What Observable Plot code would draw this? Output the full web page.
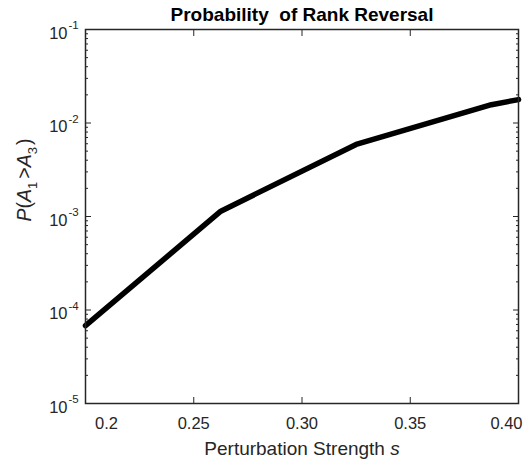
<!DOCTYPE html>
<html>
<head>
<meta charset="utf-8">
<script src="https://cdn.jsdelivr.net/npm/d3@7"></script>
<script src="https://cdn.jsdelivr.net/npm/@observablehq/plot@0.6"></script>
<style>
  html, body { margin: 0; padding: 0; background: #fff; }
</style>
</head>
<body>
<div id="chart"></div>
<script>
// ---- data ----
const sValues = [0.2, 0.2625, 0.325, 0.3875, 0.4];
const pValues = [6.8e-5, 1.14e-3, 5.9e-3, 1.57e-2, 1.78e-2];

const xTickValues = [0.2, 0.25, 0.30, 0.35, 0.40];
const xTickLabels = ["0.2", "0.25", "0.30", "0.35", "0.40"];
const yTickValues = [1e-5, 1e-4, 1e-3, 1e-2, 1e-1];
const yTickExponents = ["-5", "-4", "-3", "-2", "-1"];

const titleText = "Probability\u00a0 of Rank Reversal";
const xLabelText = "Perturbation Strength s";
const yLabelText = "P(A1 >A3)";

// ---- derived tables ----
const series = sValues.map((s, i) => ({s, p: pValues[i]}));
const xTicks = xTickValues.map((v, i) => ({v, label: xTickLabels[i]}));
const yTicks = yTickValues.map((v, i) => ({v, exp: yTickExponents[i]}));
const yMinor = [];
for (let k = 0; k < yTickValues.length - 1; k++)
  for (let m = 2; m <= 9; m++) yMinor.push(yTickValues[k] * m);

const ink = "#262626";

const chart = Plot.plot({
  width: 526,
  height: 461,
  marginLeft: 85,
  marginRight: 8,
  marginTop: 29,
  marginBottom: 58,
  style: {fontFamily: "'Liberation Sans', Arial, sans-serif", color: ink, background: "#fff", overflow: "visible"},
  x: {domain: [0.2, 0.4]},
  y: {type: "log", domain: [1e-5, 1e-1]},
  marks: [
    // axes ticks (inward, boxed)
    Plot.axisX({anchor: "bottom", ticks: xTickValues, tickSize: -6, tickFormat: () => "", label: null, stroke: ink}),
    Plot.axisX({anchor: "top", ticks: xTickValues, tickSize: -6, tickFormat: () => "", label: null, stroke: ink}),
    Plot.axisY({anchor: "left", ticks: yTickValues, tickSize: -6, tickFormat: () => "", label: null, stroke: ink}),
    Plot.axisY({anchor: "right", ticks: yTickValues, tickSize: -6, tickFormat: () => "", label: null, stroke: ink}),
    Plot.axisY({anchor: "left", ticks: yMinor, tickSize: -3, tickFormat: () => "", label: null, stroke: ink}),
    Plot.axisY({anchor: "right", ticks: yMinor, tickSize: -3, tickFormat: () => "", label: null, stroke: ink}),
    // x tick labels (end labels nudged inward as in the original)
    Plot.text(xTicks.slice(0, 1), {x: "v", text: "label", frameAnchor: "bottom", lineAnchor: "middle", dy: 20, dx: 21, fontSize: 16.5, fill: ink}),
    Plot.text(xTicks.slice(1, -1), {x: "v", text: "label", frameAnchor: "bottom", lineAnchor: "middle", dy: 20, fontSize: 16.5, fill: ink}),
    Plot.text(xTicks.slice(-1), {x: "v", text: "label", frameAnchor: "bottom", lineAnchor: "middle", dy: 20, dx: -12, fontSize: 16.5, fill: ink}),
    // y tick labels 10^k
    Plot.text(yTicks, {y: "v", text: () => "10", frameAnchor: "left", textAnchor: "end", dx: -18, dy: 4, fontSize: 16.5, fill: ink}),
    Plot.text(yTicks, {y: "v", text: "exp", frameAnchor: "left", textAnchor: "start", dx: -17, dy: -4, fontSize: 11.5, fill: ink}),
    // the series
    Plot.line(series, {x: "s", y: "p", stroke: "black", strokeWidth: 5.5, strokeLinejoin: "round"}),
    // frame
    Plot.frame({stroke: ink, strokeWidth: 1.5}),
    // title and axis labels
    Plot.text([titleText], {text: d => d, frameAnchor: "top", lineAnchor: "middle", dy: -15, fontSize: 19, fontWeight: "bold", fill: "black"}),
    Plot.text([xLabelText], {text: d => d, frameAnchor: "bottom", lineAnchor: "middle", dy: 45, fontSize: 19, fill: ink, className: "xlab"}),
    Plot.text([yLabelText], {text: d => d, frameAnchor: "left", lineAnchor: "middle", dx: -61, dy: 5, rotate: -90, fontSize: 19.5, fill: ink, className: "ylab"})
  ]
});

document.getElementById("chart").appendChild(chart);

// rich text: italic s and subscripts
const svg = d3.select(chart);
const xt = svg.select("g.xlab text");
xt.text(null);
xt.append("tspan").text("Perturbation Strength ");
xt.append("tspan").attr("font-style", "italic").text("s");

const yt = svg.select("g.ylab text");
yt.text(null);
yt.append("tspan").attr("font-style", "italic").text("P");
yt.append("tspan").text("(");
yt.append("tspan").attr("font-style", "italic").text("A");
yt.append("tspan").attr("font-size", 13).attr("dy", 6).text("1");
yt.append("tspan").attr("dy", -6).attr("dx", 3).text(">");
yt.append("tspan").attr("font-style", "italic").text("A");
yt.append("tspan").attr("font-size", 13).attr("dy", 6).text("3");
yt.append("tspan").attr("dy", -6).attr("dx", 2).text(")");
</script>
</body>
</html>
